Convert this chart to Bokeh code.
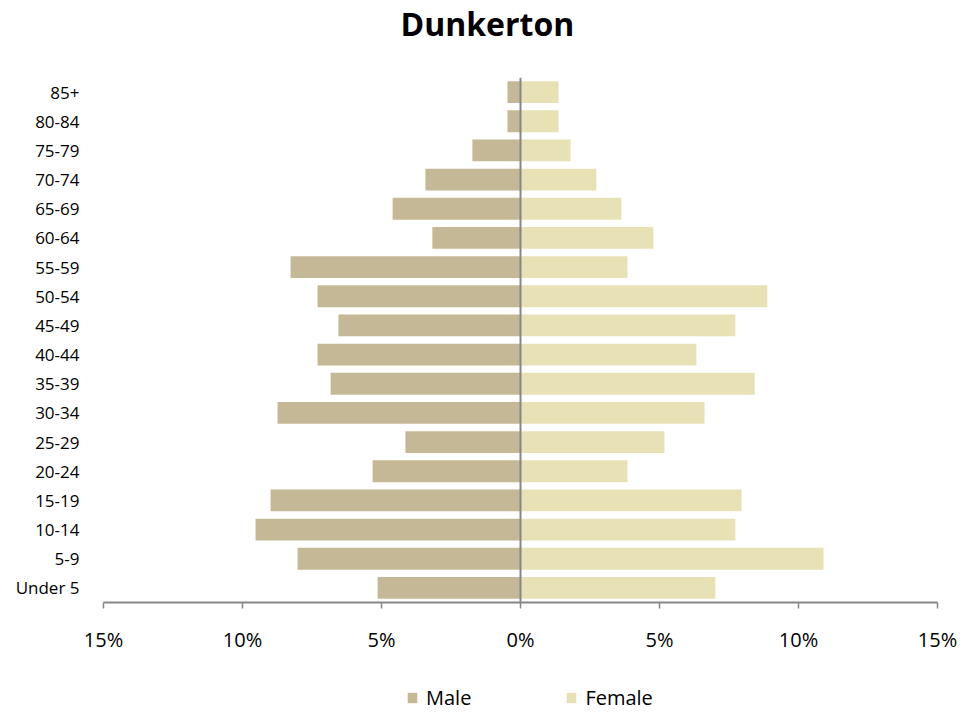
from bokeh.plotting import figure
from bokeh.models import (FactorRange, Span, Legend, LegendItem, FixedTicker,
                          ColumnDataSource, Title)
from bokeh.layouts import column
from bokeh.embed import file_html
from bokeh.resources import INLINE

ages = ["Under 5", "5-9", "10-14", "15-19", "20-24", "25-29", "30-34", "35-39", "40-44",
        "45-49", "50-54", "55-59", "60-64", "65-69", "70-74", "75-79", "80-84", "85+"]
male = [5.14, 8.02, 9.53, 8.99, 5.32, 4.14, 8.74, 6.83, 7.3,
        6.55, 7.3, 8.27, 3.17, 4.6, 3.42, 1.73, 0.47, 0.47]
female = [7.01, 10.9, 7.73, 7.95, 3.85, 5.18, 6.62, 8.42, 6.33,
          7.73, 8.88, 3.85, 4.78, 3.63, 2.73, 1.8, 1.37, 1.37]
x_ticks = [-15, -10, -5, 0, 5, 10, 15]
x_tick_labels = ["15%", "10%", "5%", "0%", "5%", "10%", "15%"]
series_names = ["Male", "Female"]

MALE_C = "#C4B896"
FEMALE_C = "#E8E1B5"

src = ColumnDataSource(dict(age=ages, male=[-m for m in male], female=female))

p = figure(title=None, frame_width=834, frame_height=525, output_backend="svg",
           toolbar_location=None,
           x_range=(-15, 15), y_range=FactorRange(*ages, range_padding=0),
           min_border_left=103, min_border_right=31, min_border_top=77, min_border_bottom=60)

# spacer title (closest to the frame), then the real title above it
p.add_layout(Title(text=" ", text_font_size="1px", standoff=28), "above")
p.add_layout(Title(text="Dunkerton", align="left", offset=297, text_font="Open Sans",
                   text_font_style="bold", text_font_size="32px", text_color="#000000",
                   standoff=0, vertical_align="top"), "above")

r_m = p.hbar(y="age", left="male", right=0, height=0.75, source=src,
             fill_color=MALE_C, line_color=None)
r_f = p.hbar(y="age", left=0, right="female", height=0.75, source=src,
             fill_color=FEMALE_C, line_color=None)

p.add_layout(Span(location=0, dimension="height", line_color="#868686", line_width=2))

p.xgrid.visible = False
p.ygrid.visible = False
p.outline_line_color = None

xa = p.xaxis[0]
xa.ticker = FixedTicker(ticks=x_ticks)
xa.major_label_overrides = {t: l for t, l in zip(x_ticks, x_tick_labels)}
xa.axis_line_color = "#868686"
xa.axis_line_width = 2
xa.major_tick_line_color = "#868686"
xa.major_tick_line_width = 1.5
xa.major_tick_in = 0
xa.major_tick_out = 6
xa.minor_tick_line_color = None
xa.major_label_standoff = 17
xa.major_label_text_font = "Open Sans"
xa.major_label_text_font_size = "20px"
xa.major_label_text_color = "#000000"

ya = p.yaxis[0]
ya.axis_line_color = None
ya.major_tick_line_color = None
ya.minor_tick_line_color = None
ya.major_label_standoff = 18
ya.major_label_text_font = "Open Sans"
ya.major_label_text_font_size = "17px"
ya.major_label_text_color = "#000000"

# legend strip below the chart (zero-width proxy bars carry the legend swatches)
lg = figure(frame_width=968, frame_height=50, output_backend="svg", toolbar_location=None,
            x_axis_location=None, y_axis_location=None, x_range=(0, 1), y_range=(0, 1),
            min_border_left=0, min_border_right=0, min_border_top=0, min_border_bottom=0)
lg.xgrid.visible = False
lg.ygrid.visible = False
lg.outline_line_color = None
proxy = ColumnDataSource(dict(y=[0.5], left=[0], right=[0]))
lm = lg.hbar(y="y", left="left", right="right", height=0.5, source=proxy,
             fill_color=MALE_C, line_color=None)
lf = lg.hbar(y="y", left="left", right="right", height=0.5, source=proxy,
             fill_color=FEMALE_C, line_color=None)
legend = Legend(items=[LegendItem(label=series_names[0], renderers=[lm]),
                       LegendItem(label=series_names[1], renderers=[lf])],
                orientation="horizontal", location=(406, 1),
                label_text_font="Open Sans", label_text_font_size="20px",
                label_text_color="#000000",
                glyph_width=12, glyph_height=13, spacing=94,
                border_line_color=None, background_fill_alpha=0,
                margin=0, padding=0, label_standoff=8)
lg.add_layout(legend)

page = column(p, lg, spacing=0)
open("out.html", "w").write(file_html(page, INLINE))
